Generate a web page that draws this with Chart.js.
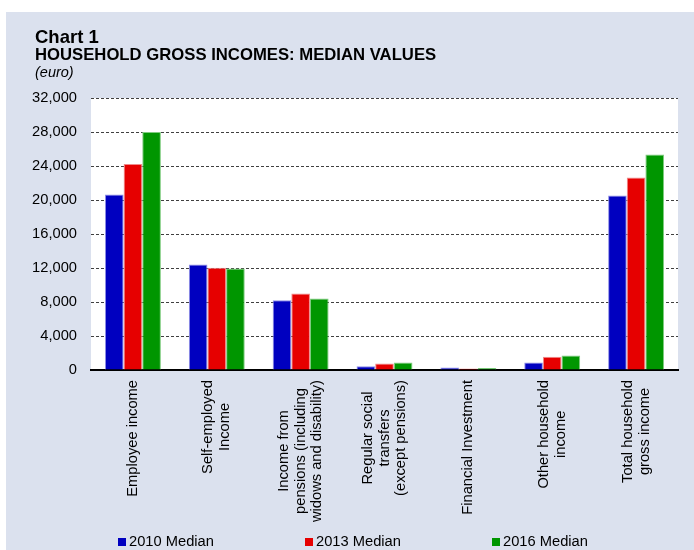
<!DOCTYPE html>
<html>
<head>
<meta charset="utf-8">
<script src="https://cdn.jsdelivr.net/npm/chart.js@4/dist/chart.umd.min.js"></script>
<style>
  html, body { margin: 0; padding: 0; background: #fff; }
  #wrap { position: relative; width: 694px; height: 550px; font-family: "Liberation Sans", Arial, sans-serif; color: #000; }
  #wrap canvas { position: absolute; left: 0; top: 0; }
  .txt { position: absolute; line-height: 1; white-space: nowrap; }
  .legend-item { position: absolute; top: 534px; font-size: 14.7px; line-height: 1; white-space: nowrap; }
  .legend-item i { position: absolute; left: -11px; top: 4px; width: 8px; height: 8px; }
</style>
</head>
<body>
<div id="wrap">
  <canvas id="incomes-chart" width="694" height="550"></canvas>
  <div class="txt" style="left:35px; top:28px; font-size:18.5px; font-weight:bold;">Chart 1</div>
  <div class="txt" style="left:35px; top:47px; font-size:16.7px; font-weight:bold;">HOUSEHOLD GROSS INCOMES: MEDIAN VALUES</div>
  <div class="txt" style="left:35px; top:65px; font-size:14.5px; font-style:italic;">(euro)</div>
  <div id="legend"></div>
</div>
<script>
// Income categories (one array per label line)
const categories = [
    ['Employee income'],
    ['Self-employed', 'Income'],
    ['Income from', 'pensions (including', 'widows and disability)'],
    ['Regular social', 'transfers', '(except pensions)'],
    ['Financial Investment'],
    ['Other household', 'income'],
    ['Total household', 'gross income']
];

// Median values in euro
const median2010 = [20650, 12400, 8220, 450, 290, 880, 20520];
const median2013 = [24250, 12040, 9010, 770, 180, 1550, 22640];
const median2016 = [28000, 11950, 8420, 880, 250, 1710, 25350];

const seriesNames = ['2010 Median', '2013 Median', '2016 Median'];
const seriesColors = ['#0000c0', '#e60000', '#009600'];
const seriesEdges = ['#8f8fe6', '#f08a8a', '#7fcc7f'];

const yTicks = [0, 4000, 8000, 12000, 16000, 20000, 24000, 28000, 32000];

const labelFont = '14.7px "Liberation Sans", Arial, sans-serif';

// Panel background and white plot area
const backgroundPlugin = {
    id: 'panelBackground',
    beforeDraw(chart) {
        const ctx = chart.ctx;
        const area = chart.chartArea;
        ctx.save();
        ctx.fillStyle = '#ffffff';
        ctx.fillRect(0, 0, chart.width, chart.height);
        ctx.fillStyle = '#dbe1ee';
        ctx.fillRect(6, 12, chart.width - 6, chart.height - 12);
        ctx.fillStyle = '#ffffff';
        ctx.fillRect(area.left, area.top, area.right - area.left, area.bottom - area.top);
        ctx.restore();
    }
};

// Rotated category labels, lines centred on each other
const categoryLabelsPlugin = {
    id: 'categoryLabels',
    afterDraw(chart) {
        const ctx = chart.ctx;
        const xScale = chart.scales.x;
        const lineHeight = 16.8;
        const top = chart.chartArea.bottom + 10;
        ctx.save();
        ctx.font = labelFont;
        ctx.fillStyle = '#000';
        ctx.textAlign = 'center';
        ctx.textBaseline = 'middle';
        chart.data.labels.forEach(function(lines, i) {
            const xc = xScale.getPixelForValue(i);
            const maxW = Math.max.apply(null, lines.map(l => ctx.measureText(l).width));
            lines.forEach(function(line, j) {
                const x = xc + (j - (lines.length - 1) / 2) * lineHeight;
                ctx.save();
                ctx.translate(x, top + maxW / 2);
                ctx.rotate(-Math.PI / 2);
                ctx.fillText(line, 0, 0);
                ctx.restore();
            });
        });
        ctx.restore();
    }
};

const series = [median2010, median2013, median2016];

new Chart(document.getElementById('incomes-chart'), {
    type: 'bar',
    data: {
        labels: categories,
        datasets: series.map((values, i) => ({
            label: seriesNames[i],
            data: values,
            backgroundColor: seriesColors[i],
            borderColor: seriesEdges[i],
            borderWidth: 1,
            categoryPercentage: 0.667,
            barPercentage: 1.0
        }))
    },
    options: {
        responsive: false,
        animation: false,
        devicePixelRatio: 1,
        layout: {
            padding: { top: 98, right: 16, bottom: 180, left: 0 }
        },
        plugins: {
            legend: { display: false },
            title: { display: false },
            tooltip: { enabled: false }
        },
        scales: {
            x: {
                afterFit: function(scale) { scale.height = 0; },
                ticks: { display: false },
                grid: { display: false },
                border: { display: true, color: '#000', width: 2 }
            },
            y: {
                min: 0,
                max: 32000,
                afterFit: function(scale) { scale.width = 91; },
                afterBuildTicks: function(scale) {
                    scale.ticks = yTicks.map(v => ({ value: v }));
                },
                ticks: {
                    padding: 14,
                    color: '#000',
                    font: { family: '"Liberation Sans", Arial, sans-serif', size: 14.7 },
                    callback: v => v.toLocaleString('en-US')
                },
                grid: {
                    color: '#404040',
                    lineWidth: 1,
                    drawTicks: false
                },
                border: { display: false, dash: [3, 2] }
            }
        }
    },
    plugins: [backgroundPlugin, categoryLabelsPlugin]
});

// Legend
const legendLeft = [129, 316, 503];
const legend = document.getElementById('legend');
seriesNames.forEach(function(name, i) {
    const item = document.createElement('div');
    item.className = 'legend-item';
    item.style.left = legendLeft[i] + 'px';
    item.innerHTML = '<i style="background:' + seriesColors[i] + '"></i>' + name;
    legend.appendChild(item);
});
</script>
</body>
</html>
